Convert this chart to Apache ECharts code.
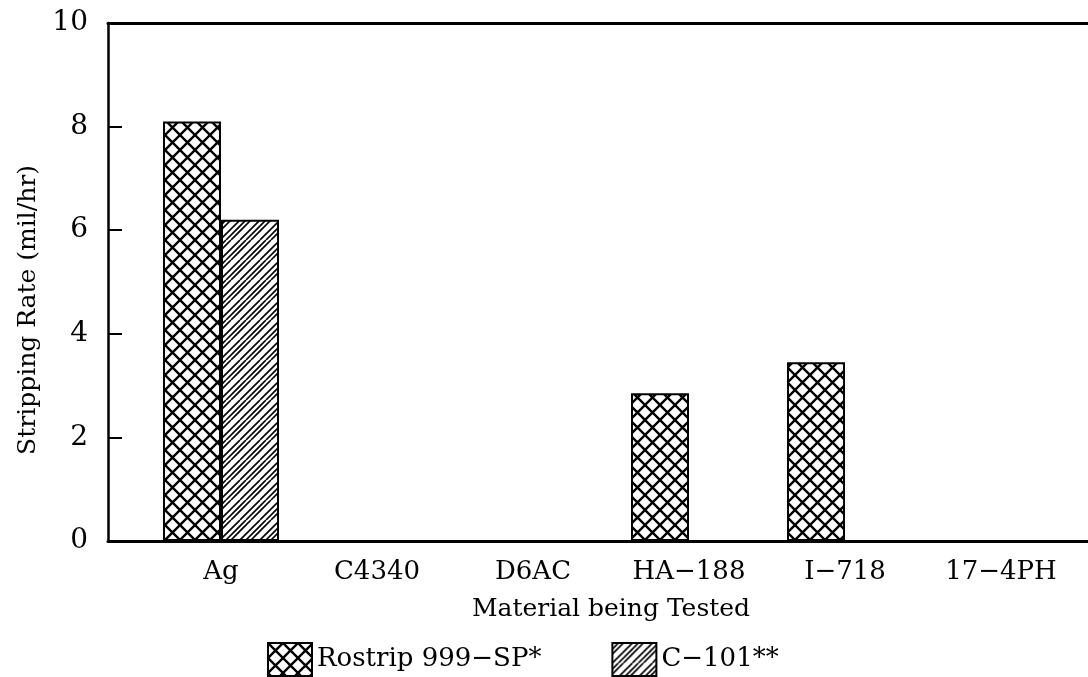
<!DOCTYPE html>
<html>
<head>
<meta charset="utf-8">
<script src="https://cdn.jsdelivr.net/npm/echarts@6/dist/echarts.min.js"></script>
<style>
  html, body { margin: 0; padding: 0; background: #fff; }
  #chart { width: 1088px; height: 677px; }
</style>
</head>
<body>
<div id="chart"></div>
<script>
// data
const materials = ['Ag', 'C4340', 'D6AC', 'HA\u2212188', 'I\u2212718', '17\u22124PH'];
const rostrip = [8.1, null, null, 2.85, 3.45, null];
const c101 = [6.2, null, null, null, null, null];
const yTicks = [0, 2, 4, 6, 8, 10];

const FONT = 'DejaVu Serif';

// cross hatch (diamond lattice) tile
function crossHatch() {
  const t = 15;
  const c = document.createElement('canvas');
  c.width = t; c.height = t;
  const g = c.getContext('2d');
  g.fillStyle = '#fff';
  g.fillRect(0, 0, t, t);
  g.strokeStyle = '#000';
  g.lineWidth = 2.4;
  for (let k = -1; k <= 1; k++) {
    g.beginPath();
    g.moveTo(k * t, 0); g.lineTo(k * t + t, t);
    g.moveTo(k * t + t, 0); g.lineTo(k * t, t);
    g.stroke();
  }
  return c;
}

// forward diagonal hatch, lines in small groups
function diagHatch() {
  const t = 20;
  const c = document.createElement('canvas');
  c.width = t; c.height = t;
  const g = c.getContext('2d');
  g.fillStyle = '#fff';
  g.fillRect(0, 0, t, t);
  g.strokeStyle = '#000';
  g.lineWidth = 1.6;
  [0, 6, 11].forEach(function (off) {
    for (let k = -1; k <= 2; k++) {
      g.beginPath();
      g.moveTo(off + k * t, 0);
      g.lineTo(off + k * t - t, t);
      g.stroke();
    }
  });
  return c;
}

const chart = echarts.init(document.getElementById('chart'));

const option = {
  backgroundColor: '#fff',
  animation: false,
  textStyle: { fontFamily: FONT, color: '#000' },
  grid: [
    { left: 108, right: 0, top: 23, bottom: 136 },
    { left: 143, right: 9, top: 23, bottom: 136 }
  ],
  legend: {
    left: 262,
    top: 637,
    icon: 'rect',
    itemWidth: 44,
    itemHeight: 33,
    itemGap: 70,
    textStyle: { fontFamily: FONT, fontSize: 26, color: '#000' },
    data: ['Rostrip 999\u2212SP*', 'C\u2212101**']
  },
  xAxis: [
    {
      // frame: bottom line
      gridIndex: 0, type: 'value', min: 0, max: 1,
      axisLine: { show: true, lineStyle: { color: '#000', width: 3 } },
      axisTick: { show: false }, axisLabel: { show: false }, splitLine: { show: false }
    },
    {
      // frame: top line
      gridIndex: 0, type: 'value', position: 'top', min: 0, max: 1,
      axisLine: { show: true, lineStyle: { color: '#000', width: 3 } },
      axisTick: { show: false }, axisLabel: { show: false }, splitLine: { show: false }
    },
    {
      gridIndex: 1, type: 'category', data: materials,
      axisLine: { show: false }, axisTick: { show: false },
      axisLabel: { fontFamily: FONT, fontSize: 26, color: '#000', margin: 18 },
      name: 'Material being Tested',
      nameLocation: 'middle',
      nameGap: 56,
      nameTextStyle: { fontFamily: FONT, fontSize: 25, color: '#000' }
    }
  ],
  yAxis: [
    {
      gridIndex: 0, type: 'value', min: 0, max: 10, interval: 2,
      axisLine: { show: true, lineStyle: { color: '#000', width: 2.5 } },
      axisTick: { show: true, inside: true, length: 14, lineStyle: { color: '#000', width: 2 } },
      axisLabel: {
        fontFamily: FONT, fontSize: 28, color: '#000', margin: 20,
        formatter: function (v) { return yTicks.indexOf(v) >= 0 ? String(v) : ''; }
      },
      splitLine: { show: false },
      name: 'Stripping Rate (mil/hr)',
      nameLocation: 'middle',
      nameGap: 66,
      nameTextStyle: { fontFamily: FONT, fontSize: 25, color: '#000', padding: [0, 56, 0, 0] }
    },
    {
      gridIndex: 1, type: 'value', min: 0, max: 10, interval: 2, show: false
    }
  ],
  series: [
    {
      name: 'Rostrip 999\u2212SP*',
      type: 'bar',
      xAxisIndex: 2, yAxisIndex: 1,
      barWidth: 58, barGap: '0%',
      data: rostrip,
      itemStyle: {
        color: { image: crossHatch(), repeat: 'repeat' },
        borderColor: '#000', borderWidth: 2
      }
    },
    {
      name: 'C\u2212101**',
      type: 'bar',
      xAxisIndex: 2, yAxisIndex: 1,
      barWidth: 58, barGap: '0%',
      data: c101,
      itemStyle: {
        color: { image: diagHatch(), repeat: 'repeat' },
        borderColor: '#000', borderWidth: 2
      }
    }
  ]
};

chart.setOption(option);
</script>
</body>
</html>
